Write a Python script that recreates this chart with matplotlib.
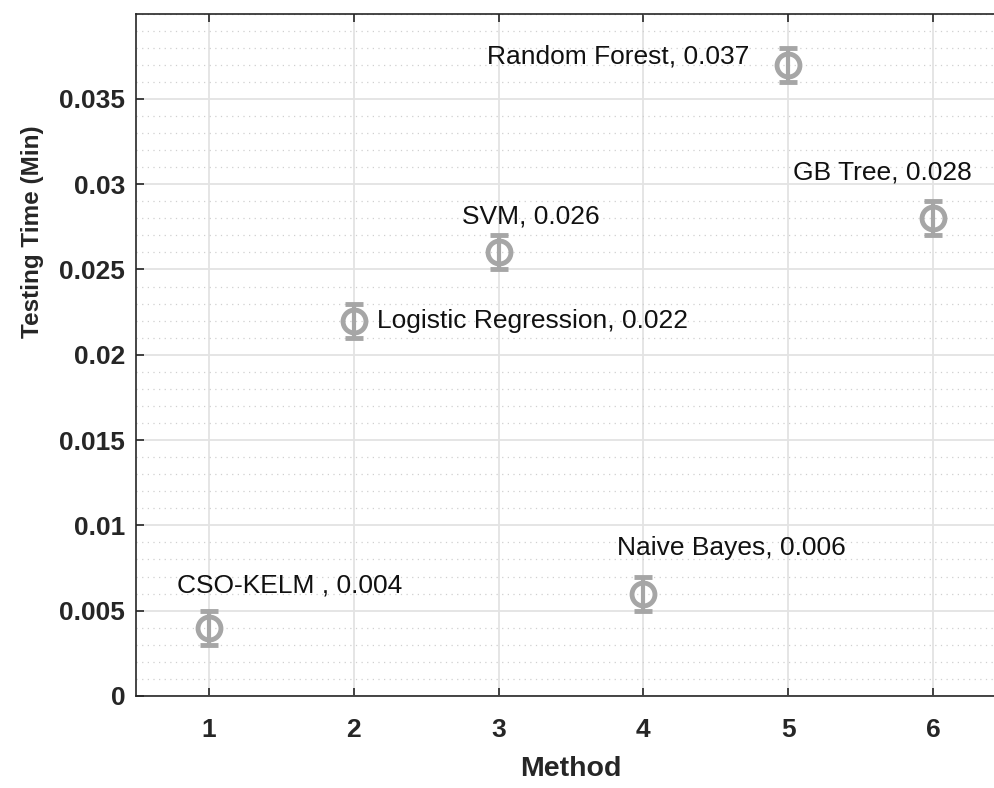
import matplotlib
matplotlib.use("Agg")
import matplotlib.pyplot as plt
from matplotlib.ticker import MultipleLocator

plt.rcParams['font.family'] = ['Liberation Sans', 'DejaVu Sans']

# data
methods = [1, 2, 3, 4, 5, 6]
names = ["CSO-KELM ", "Logistic Regression", "SVM", "Naive Bayes", "Random Forest", "GB Tree"]
test_time = [0.004, 0.022, 0.026, 0.006, 0.037, 0.028]
err = [0.001, 0.001, 0.001, 0.001, 0.001, 0.001]

# where each label sits (data coords, left edge / vertical centre)
label_x = [0.78, 2.16, 2.75, 3.82, 2.92, 5.03]
label_y = [0.0065, 0.0220, 0.0281, 0.0087, 0.0375, 0.0307]

fig = plt.figure(figsize=(9.94, 7.88), dpi=100)
ax = fig.add_axes([0.1373, 0.1168, 0.8742, 0.866])

gray = '#a6a6a6'
ax.errorbar(methods, test_time, yerr=err, fmt='o', color=gray, mfc='none',
            mec=gray, ms=16.5, mew=3.5, elinewidth=3, capsize=6.5, capthick=3,
            zorder=3)

for n, v, x, y in zip(names, test_time, label_x, label_y):
    ax.text(x, y, f"{n}, {v}", ha='left', va='center', fontsize=19, color='#111111')

ax.set_xlim(0.5, 6.5)
ax.set_ylim(0, 0.04)
ax.set_xticks(methods)
ax.yaxis.set_minor_locator(MultipleLocator(0.001))
ax.set_yticks([0, 0.005, 0.01, 0.015, 0.02, 0.025, 0.03, 0.035])
ax.set_yticklabels(['0', '0.005', '0.01', '0.015', '0.02', '0.025', '0.03', '0.035'])

ax.grid(True, which='major', color='#e3e3e3', linewidth=1.3, linestyle='-')
ax.grid(True, which='minor', axis='y', color='#d0d0d0', linewidth=0.9, linestyle=(0, (1, 3.5)))
ax.set_axisbelow(True)

ax.tick_params(which='major', direction='in', length=6, width=1.2, color='#262626',
               top=True, right=True, labelsize=19, labelcolor='#262626')
ax.tick_params(axis='x', pad=16)
ax.tick_params(axis='y', pad=8)
ax.tick_params(which='minor', length=0)
for lab in ax.get_xticklabels() + ax.get_yticklabels():
    lab.set_fontweight('bold')
for s in ax.spines.values():
    s.set_color('#262626')
    s.set_linewidth(1.2)

ax.set_xlabel('Method', fontsize=20.5, fontweight='bold', color='#262626')
ax.set_ylabel('Testing Time (Min)', fontsize=17.5, fontweight='bold', color='#262626')
ax.xaxis.set_label_coords(0.5, -0.088)
ax.yaxis.set_label_coords(-0.106, 0.68)

fig.savefig('out.png', dpi=100)
